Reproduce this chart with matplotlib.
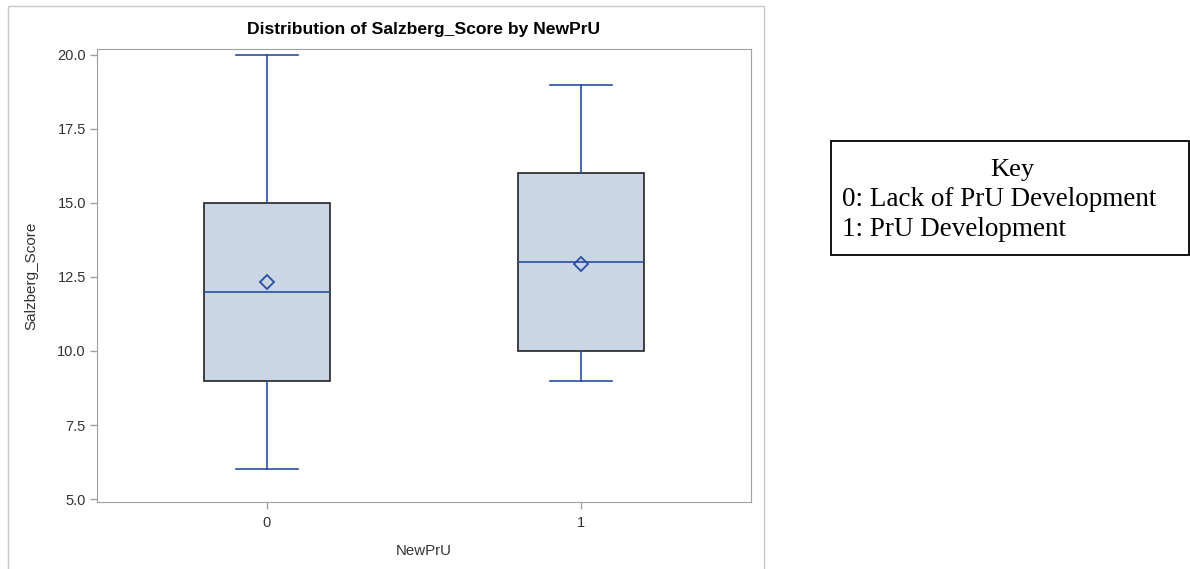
import matplotlib.pyplot as plt
from matplotlib.patches import Rectangle

# five-number summaries per group, plus means
groups = ["0", "1"]
mins = [6, 9]
q1s = [9, 10]
medians = [12, 13]
q3s = [15, 16]
maxs = [20, 19]
means = [12.33, 12.95]

key_lines = ["Key", "0: Lack of PrU Development", "1: PrU Development"]

line_col = "#2A4E9F"
fill_col = "#CAD5E5"

W, H = 1190, 569
fig = plt.figure(figsize=(W / 100, H / 100), dpi=100)

# light frame round the graph area
fig.add_artist(Rectangle((8 / W, -0.01), (764 - 8) / W, 1 - 6 / H + 0.01,
                         transform=fig.transFigure, fill=False,
                         edgecolor="#C8C8C8", lw=1))

ax = fig.add_axes([97 / W, 1 - 502 / H, (751 - 97) / W, (502 - 49) / H])

stats = []
for i, g in enumerate(groups):
    stats.append(dict(label=g, whislo=mins[i], q1=q1s[i], med=medians[i],
                      q3=q3s[i], whishi=maxs[i], mean=means[i], fliers=[]))

ax.bxp(stats, positions=[0, 1], widths=0.4, patch_artist=True,
       showmeans=True, capwidths=0.2,
       boxprops=dict(facecolor=fill_col, edgecolor="#222222", lw=1.2),
       medianprops=dict(color=line_col, lw=1.2),
       whiskerprops=dict(color=line_col, lw=1.2),
       capprops=dict(color=line_col, lw=1.2),
       meanprops=dict(marker="D", markerfacecolor="none",
                      markeredgecolor=line_col, markersize=7, mew=1.3))

ax.set_xlim(-0.541, 1.541)
ax.set_ylim(4.9, 20.2)
ax.set_yticks([5.0, 7.5, 10.0, 12.5, 15.0, 17.5, 20.0])
ax.set_yticklabels(["5.0", "7.5", "10.0", "12.5", "15.0", "17.5", "20.0"])

for s in ax.spines.values():
    s.set_color("#A0A0A0")
ax.tick_params(colors="#A0A0A0", labelcolor="#333333", labelsize=10.5,
               length=5, width=1)
ax.tick_params(axis="x", pad=5)
ax.tick_params(axis="y", pad=3)

ax.set_title("Distribution of Salzberg_Score by NewPrU", fontsize=12.6,
             fontweight="bold", family="Liberation Sans", pad=11)
ax.set_xlabel("NewPrU", fontsize=10.8, color="#333333",
              family="Liberation Sans")
ax.set_ylabel("Salzberg_Score", fontsize=11, color="#333333",
              family="Liberation Sans")
ax.xaxis.set_label_coords(0.5, -0.092)
ax.yaxis.set_label_coords(-0.09, 0.5)
for lab in ax.get_xticklabels() + ax.get_yticklabels():
    lab.set_family("Liberation Sans")

# key box on the right
fig.add_artist(Rectangle((831 / W, 1 - 255 / H), (1189 - 831) / W, 114 / H,
                         transform=fig.transFigure, fill=False,
                         edgecolor="black", lw=1.3))
fig.text(1012 / W, 1 - 170 / H, key_lines[0], ha="center", va="center",
         family="Liberation Serif", fontsize=19)
fig.text(842 / W, 1 - 200 / H, key_lines[1], ha="left", va="center",
         family="Liberation Serif", fontsize=19.5)
fig.text(842 / W, 1 - 230 / H, key_lines[2], ha="left", va="center",
         family="Liberation Serif", fontsize=19.5)

fig.savefig("out.png", dpi=100)
